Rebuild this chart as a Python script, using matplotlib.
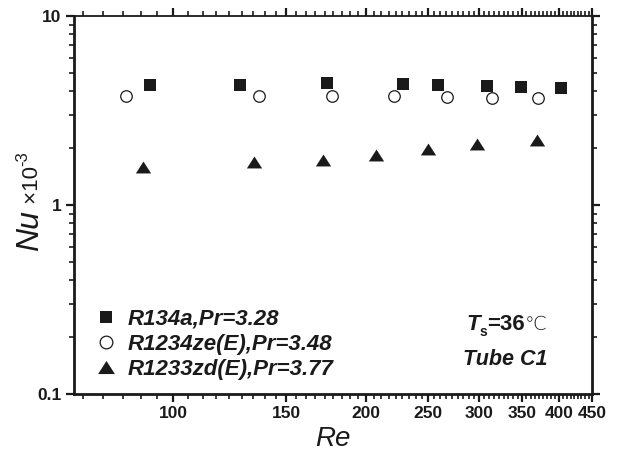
import numpy as np
import matplotlib
matplotlib.use("Agg")
import matplotlib.pyplot as plt
from matplotlib.path import Path
from matplotlib.transforms import IdentityTransform
from matplotlib.ticker import FixedLocator, FixedFormatter, NullFormatter

# Nusselt number (x 10^-3) vs Reynolds number for three refrigerants
re_r134a = [92, 127, 174, 228, 259, 309, 349, 402]
nu_r134a = [4.32, 4.32, 4.42, 4.35, 4.30, 4.28, 4.19, 4.16]

re_r1234ze = [84.4, 136, 177, 221, 267, 314, 370]
nu_r1234ze = [3.76, 3.76, 3.79, 3.79, 3.73, 3.69, 3.67]

re_r1233zd = [89.6, 133.5, 171, 207, 250, 298, 369]
nu_r1233zd = [1.58, 1.69, 1.73, 1.83, 1.97, 2.10, 2.21]

series_labels = ["R134a,Pr=3.28", "R1234ze(E),Pr=3.48", "R1233zd(E),Pr=3.77"]

x_major = [100, 150, 200, 250, 300, 350, 400, 450]
x_major_labels = ["100", "150", "200", "250", "300", "350", "400", "450"]
y_major = [0.1, 1, 10]
y_major_labels = ["0.1", "1", "10"]

plt.rcParams["font.family"] = ["Liberation Sans", "DejaVu Sans"]

W, H = 617, 458
fig = plt.figure(figsize=(W / 100, H / 100), dpi=100)
ax = fig.add_axes([74 / W, 1 - 394 / H, (592 - 74) / W, (394 - 16) / H])

ax.set_xscale("log")
ax.set_yscale("log")
ax.set_xlim(70, 450)
ax.set_ylim(0.1, 10)

# wide, flat triangle marker
tri = Path([(-1, -0.78), (1, -0.78), (0, 0.78), (-1, -0.78)],
           [Path.MOVETO, Path.LINETO, Path.LINETO, Path.CLOSEPOLY])

h1, = ax.plot(re_r134a, nu_r134a, linestyle="none", marker="s", markersize=8,
              color="#1a1a1a", markeredgewidth=0)
h2, = ax.plot(re_r1234ze, nu_r1234ze, linestyle="none", marker="o", markersize=8.3,
              markerfacecolor="white", markeredgecolor="#1a1a1a", markeredgewidth=0.9)
h3, = ax.plot(re_r1233zd, nu_r1233zd, linestyle="none", marker=tri, markersize=11,
              color="#1a1a1a", markeredgewidth=0)

# ticks: Origin-style, 8 minor ticks between x majors
step = 50 / 9
x_minor = [100 - k * step for k in range(1, 6)]
for a in x_major[:-1]:
    x_minor += [a + k * step for k in range(1, 9)]
y_minor = []
for d in [0.1, 1]:
    y_minor += [d * k for k in range(2, 10)]

ax.xaxis.set_major_locator(FixedLocator(x_major))
ax.xaxis.set_major_formatter(FixedFormatter(x_major_labels))
ax.xaxis.set_minor_locator(FixedLocator(x_minor))
ax.xaxis.set_minor_formatter(NullFormatter())
ax.yaxis.set_major_locator(FixedLocator(y_major))
ax.yaxis.set_major_formatter(FixedFormatter(y_major_labels))
ax.yaxis.set_minor_locator(FixedLocator(y_minor))
ax.yaxis.set_minor_formatter(NullFormatter())

ax.tick_params(which="both", direction="out", top=True, right=True,
               labeltop=False, labelright=False, color="#1a1a1a")
ax.tick_params(which="major", length=6, width=1.6, labelsize=12.5, pad=3)
ax.tick_params(which="minor", length=3.5, width=1.2)
for lab in ax.get_xticklabels() + ax.get_yticklabels():
    lab.set_fontweight("bold")
    lab.set_color("#1a1a1a")

for side in ["left", "bottom", "right"]:
    ax.spines[side].set_linewidth(2.0)
    ax.spines[side].set_color("#1a1a1a")
ax.spines["top"].set_linewidth(1.3)
ax.spines["top"].set_color("#1a1a1a")

leg = ax.legend([h1, h2, h3], series_labels, loc="lower left",
                bbox_to_anchor=(0.025, 0.013), frameon=False,
                handlelength=0.9, handletextpad=0.55, labelspacing=0.2,
                borderaxespad=0, markerscale=1.1,
                prop={"size": 16, "weight": "bold", "style": "italic"})
for t in leg.get_texts():
    t.set_color("#1a1a1a")

fig.canvas.draw()
renderer = fig.canvas.get_renderer()


def run_text(x, y, chunks, rotation=0):
    """Lay out text chunks one after another, starting at pixel (x, y) from top-left."""
    px, py = x, H - y
    for text, kw, shift in chunks:
        if rotation == 0:
            t = fig.text(px, py + shift, text, transform=IdentityTransform(),
                         ha="left", va="baseline", color="#1a1a1a", **kw)
            bb = t.get_window_extent(renderer)
            px = bb.x1
        else:
            t = fig.text(px - shift, py, text, transform=IdentityTransform(),
                         ha="left", va="baseline", rotation=90,
                         rotation_mode="anchor", color="#1a1a1a", **kw)
            bb = t.get_window_extent(renderer)
            py = bb.y1


# x-axis title
fig.text(333, H - 446, "Re", transform=IdentityTransform(), ha="center",
         va="baseline", fontsize=20, style="italic", color="#1a1a1a")

# y-axis title: Nu x10^-3
run_text(38, 251, [
    ("Nu", dict(fontsize=23, style="italic"), 0),
    (" \u00d710", dict(fontsize=16), 0),
    ("-3", dict(fontsize=12), 11),
], rotation=90)

# condition annotation
run_text(466, 330, [
    ("T", dict(fontsize=16, weight="bold", style="italic"), 0),
    ("s", dict(fontsize=10, weight="bold"), -6),
    ("=36", dict(fontsize=16, weight="bold"), 0),
    ("\u2103", dict(fontsize=14, family=["DejaVu Sans"], weight="light"), 0),
])
run_text(463, 365, [
    ("Tube C1", dict(fontsize=15.5, weight="bold", style="italic"), 0),
])

fig.savefig("out.png", dpi=100)
